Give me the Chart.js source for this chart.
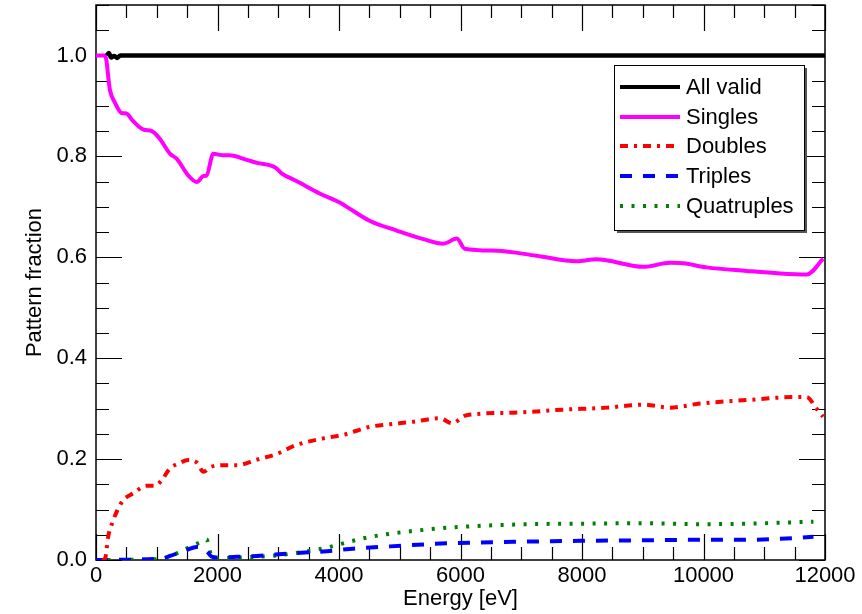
<!DOCTYPE html>
<html>
<head>
<meta charset="utf-8">
<script src="https://cdn.jsdelivr.net/npm/chart.js@4.4.0/dist/chart.umd.min.js"></script>
<style>
  html, body { margin: 0; padding: 0; background: #fff; }
</style>
</head>
<body>
<canvas id="chart" width="862" height="614"></canvas>
<script>
// ---------------- Data ----------------
const allValidE    = [180, 210, 250, 300, 350, 400, 450, 12000];
const allValidFrac = [1.0, 1.005, 0.996, 0.999, 0.995, 1.0, 1.0, 1.0];

const singlesE    = [0, 150, 230, 310, 420, 500, 610, 780, 920, 1050, 1220, 1330, 1520, 1660, 1770, 1820, 1930, 2100, 2200, 2480, 2650, 2950, 3060, 3300, 3690, 4020, 4180, 4510, 4950, 5390, 5720, 5940, 6070, 6600, 7250, 7910, 8240, 8400, 9010, 9450, 9670, 10050, 10710, 11260, 11700, 11970];
const singlesFrac = [1.0, 1.0, 0.931, 0.907, 0.886, 0.885, 0.870, 0.853, 0.850, 0.835, 0.805, 0.795, 0.762, 0.749, 0.761, 0.762, 0.805, 0.802, 0.802, 0.793, 0.787, 0.778, 0.766, 0.751, 0.726, 0.708, 0.696, 0.672, 0.653, 0.636, 0.627, 0.637, 0.617, 0.613, 0.603, 0.592, 0.596, 0.594, 0.581, 0.589, 0.588, 0.580, 0.573, 0.568, 0.566, 0.597];

const doublesE    = [100, 150, 200, 285, 365, 450, 610, 830, 970, 1080, 1220, 1355, 1520, 1660, 1770, 1880, 2100, 2320, 2650, 2970, 3300, 3740, 4070, 4510, 4840, 5220, 5660, 5860, 6100, 6870, 7690, 8410, 9010, 9450, 9940, 10710, 11530, 11700, 11860, 11970];
const doublesFrac = [0, 0.003, 0.046, 0.079, 0.102, 0.119, 0.132, 0.147, 0.147, 0.158, 0.182, 0.191, 0.198, 0.193, 0.175, 0.184, 0.188, 0.188, 0.199, 0.210, 0.228, 0.241, 0.248, 0.264, 0.269, 0.274, 0.281, 0.271, 0.287, 0.292, 0.298, 0.302, 0.308, 0.302, 0.310, 0.317, 0.323, 0.323, 0.300, 0.284];

const triplesE    = [0, 1080, 1220, 1490, 1660, 1820, 1900, 1990, 2260, 2650, 3190, 3740, 4290, 4840, 5770, 6870, 7970, 9070, 9890, 10710, 11260, 11810];
const triplesFrac = [0, 0.003, 0.008, 0.020, 0.026, 0.018, 0.007, 0.005, 0.006, 0.008, 0.013, 0.017, 0.023, 0.027, 0.033, 0.036, 0.038, 0.039, 0.040, 0.040, 0.042, 0.046];

const quatE    = [0, 1080, 1330, 1550, 1710, 1820, 1880, 1930, 2370, 2870, 3300, 3740, 4070, 4400, 4840, 5500, 6050, 7140, 7970, 9070, 9890, 10710, 11810];
const quatFrac = [0, 0.002, 0.013, 0.026, 0.035, 0.041, 0.015, 0.003, 0.005, 0.008, 0.014, 0.023, 0.033, 0.043, 0.052, 0.061, 0.066, 0.071, 0.072, 0.073, 0.071, 0.072, 0.076];

const xTickValues = [0, 2000, 4000, 6000, 8000, 10000, 12000];
const yTickValues = [0, 0.2, 0.4, 0.6, 0.8, 1.0];

const FONT = "'Liberation Sans', Arial, Helvetica, sans-serif";

function toPoints(xs, ys) {
  return xs.map((x, i) => ({ x, y: ys[i] }));
}

// ---------------- Frame + inside ticks ----------------
const framePlugin = {
  id: "frame",
  beforeDatasetsDraw(chart) {
    const { ctx, chartArea: a, scales: { x, y } } = chart;
    ctx.save();
    ctx.strokeStyle = "#000";
    ctx.lineWidth = 1.5;
    ctx.strokeRect(a.left, a.top, a.right - a.left, a.bottom - a.top);
    ctx.lineWidth = 1.2;
    ctx.beginPath();
    for (let v = 0; v <= 12000; v += 500) {
      const px = Math.round(x.getPixelForValue(v)) + 0.5;
      const len = v % 2000 === 0 ? 26 : 13;
      ctx.moveTo(px, a.bottom); ctx.lineTo(px, a.bottom - len);
      ctx.moveTo(px, a.top); ctx.lineTo(px, a.top + len);
    }
    for (let i = 0; i <= 22; i++) {
      const v = i * 0.05;
      const py = Math.round(y.getPixelForValue(v)) + 0.5;
      const len = i % 4 === 0 ? 26 : 13;
      ctx.moveTo(a.left, py); ctx.lineTo(a.left + len, py);
      ctx.moveTo(a.right, py); ctx.lineTo(a.right - len, py);
    }
    ctx.stroke();
    ctx.restore();
  }
};

// ---------------- Legend box (inside the plot) ----------------
const legendPlugin = {
  id: "boxLegend",
  afterDraw(chart) {
    const ctx = chart.ctx;
    const bx = 614, by = 65, bw = 190, bh = 165;
    ctx.save();
    ctx.fillStyle = "#555";
    ctx.fillRect(bx + 3, by + 3, bw, bh);
    ctx.fillStyle = "#fff";
    ctx.fillRect(bx, by, bw, bh);
    ctx.strokeStyle = "#000";
    ctx.lineWidth = 1;
    ctx.strokeRect(bx + 0.5, by + 0.5, bw, bh);
    const rows = [87, 117, 146, 176, 206];
    chart.data.datasets.forEach((ds, i) => {
      ctx.strokeStyle = ds.borderColor;
      ctx.lineWidth = 4;
      ctx.setLineDash(ds.borderDash || []);
      ctx.beginPath();
      ctx.moveTo(620, rows[i]);
      ctx.lineTo(680, rows[i]);
      ctx.stroke();
      ctx.setLineDash([]);
      ctx.fillStyle = "#000";
      ctx.font = "22px " + FONT;
      ctx.textBaseline = "middle";
      ctx.fillText(ds.label, 686, rows[i] + 1);
    });
    ctx.restore();
  }
};

const lineDefaults = { fill: false, pointRadius: 0, borderWidth: 4, cubicInterpolationMode: "monotone", borderCapStyle: "butt" };

new Chart(document.getElementById("chart"), {
  type: "line",
  data: {
    datasets: [
      { ...lineDefaults, label: "All valid", data: toPoints(allValidE, allValidFrac), borderColor: "#000000", borderWidth: 4.5 },
      { ...lineDefaults, label: "Singles", data: toPoints(singlesE, singlesFrac), borderColor: "#ff00ff" },
      { ...lineDefaults, label: "Doubles", data: toPoints(doublesE, doublesFrac), borderColor: "#ff0000", borderDash: [8, 6, 3, 6] },
      { ...lineDefaults, label: "Triples", data: toPoints(triplesE, triplesFrac), borderColor: "#0000ff", borderDash: [12, 11] },
      { ...lineDefaults, label: "Quatruples", data: toPoints(quatE, quatFrac), borderColor: "#008000", borderDash: [3, 8.5] }
    ]
  },
  options: {
    responsive: false,
    animation: false,
    layout: { padding: { top: 5, right: 37, left: 0, bottom: 0 } },
    plugins: { legend: { display: false }, tooltip: { enabled: false } },
    scales: {
      x: {
        type: "linear",
        min: 0,
        max: 12000,
        afterBuildTicks: (s) => { s.ticks = xTickValues.map(v => ({ value: v })); },
        afterFit: (s) => { s.height = 54; s.paddingLeft = 0; s.paddingRight = 0; },
        grid: { display: false, drawTicks: false },
        border: { display: false },
        ticks: { color: "#000", font: { family: FONT, size: 22 }, padding: 3, maxRotation: 0, callback: (v) => String(v) },
        title: { display: true, text: "Energy [eV]", color: "#000", font: { family: FONT, size: 22 }, padding: { top: 0, bottom: 2 } }
      },
      y: {
        min: 0,
        max: 1.1,
        afterBuildTicks: (s) => { s.ticks = yTickValues.map(v => ({ value: v })); },
        afterFit: (s) => { s.width = 96; s.paddingTop = 0; s.paddingBottom = 0; },
        grid: { display: false, drawTicks: false },
        border: { display: false },
        ticks: { color: "#000", font: { family: FONT, size: 22 }, padding: 9, callback: (v) => Number(v).toFixed(1) },
        title: { display: true, text: "Pattern fraction", color: "#000", font: { family: FONT, size: 22 }, padding: { top: 22, bottom: 0 } }
      }
    }
  },
  plugins: [framePlugin, legendPlugin]
});
</script>
</body>
</html>
